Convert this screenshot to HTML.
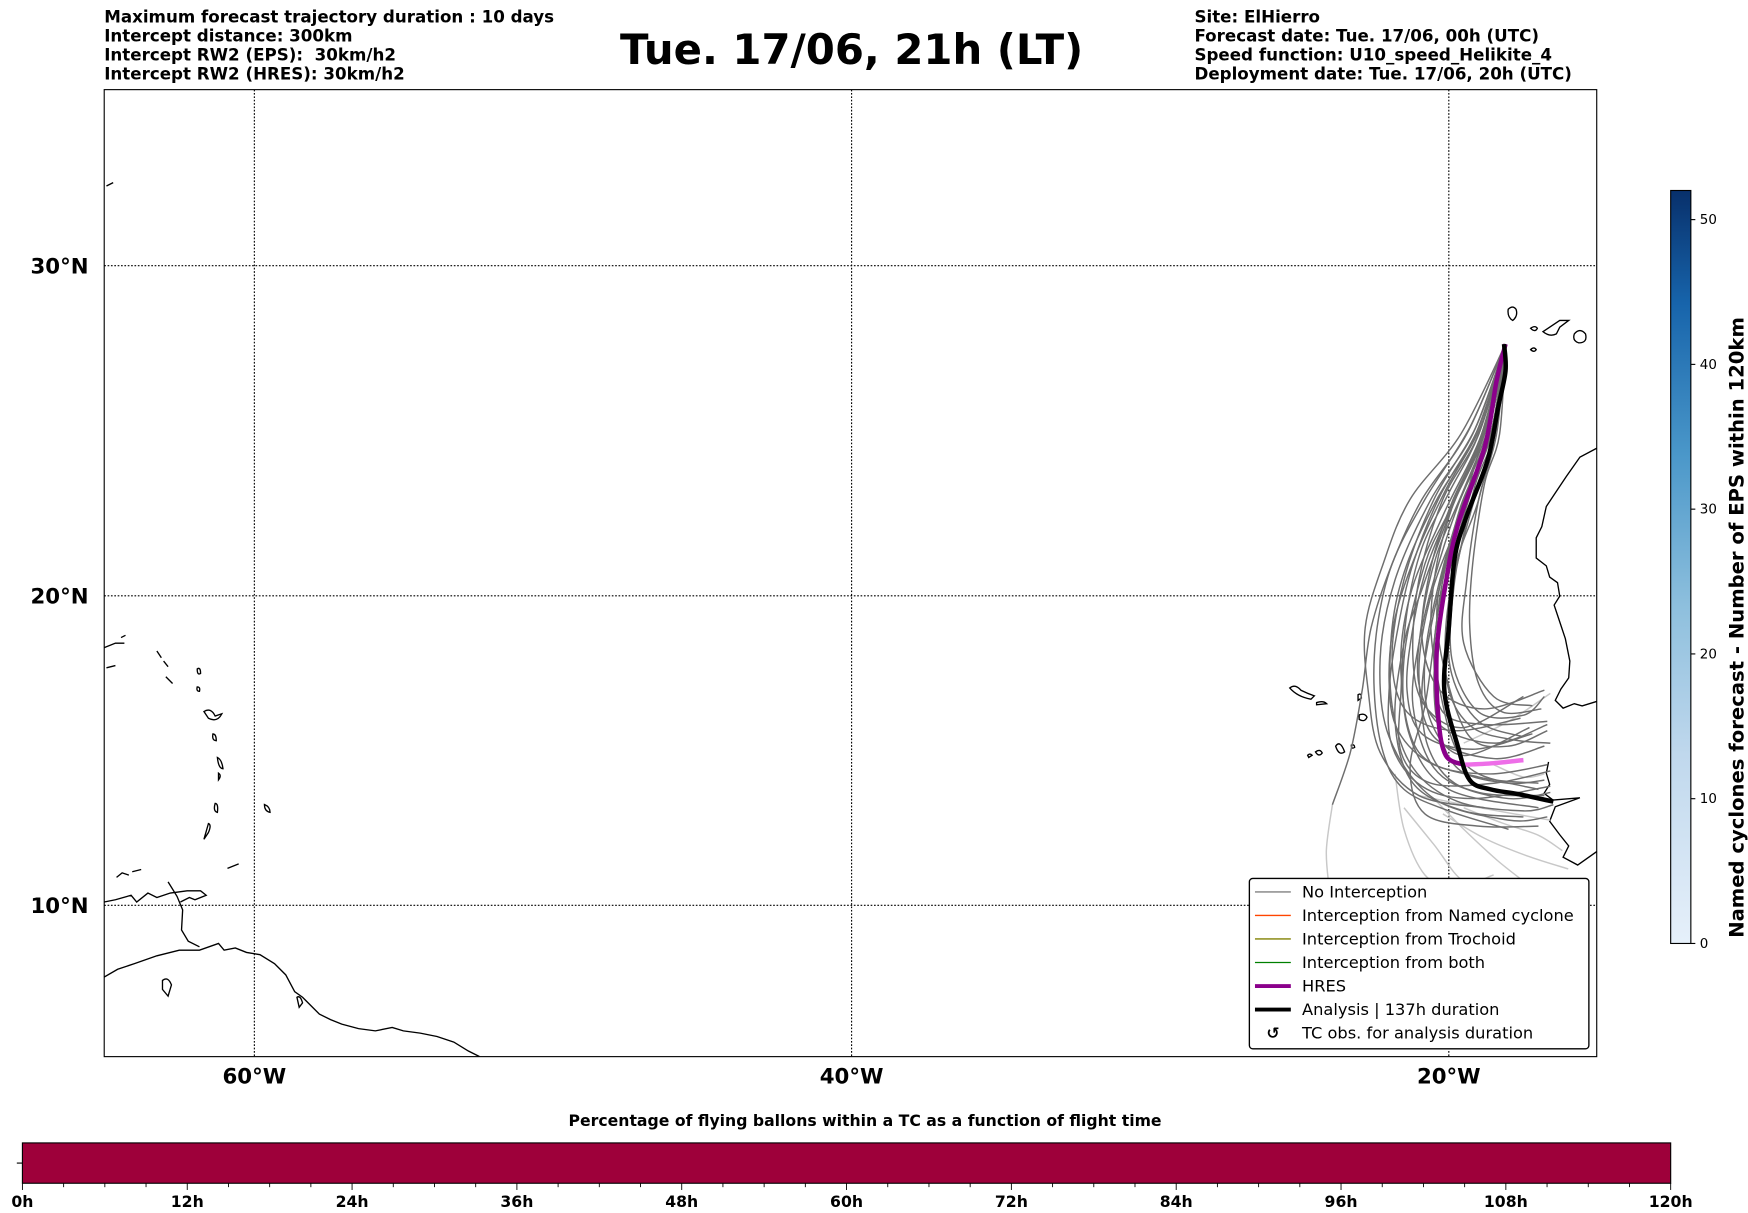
<!DOCTYPE html>
<html><head><meta charset="utf-8">
<style>
html,body{margin:0;padding:0;background:#fff;}
svg{display:block;font-family:"DejaVu Sans","Liberation Sans",sans-serif;}
.hd{font-size:14.9px;font-weight:bold;white-space:pre;}
.ax{font-size:19px;font-weight:bold;}
.lg{font-size:14.5px;}
.cb{font-size:12px;}
.bt{font-size:14px;font-weight:bold;}
.coast{fill:none;stroke:#000;stroke-width:1.2;}
</style></head>
<body>
<svg id="chart" width="1748" height="1213" viewBox="0 0 1560 1082.55" xmlns="http://www.w3.org/2000/svg">
<g>
<text class="hd" x="93" y="20">Maximum forecast trajectory duration : 10 days</text>
<text class="hd" x="93" y="37">Intercept distance: 300km</text>
<text class="hd" x="93" y="54">Intercept RW2 (EPS): &#160;30km/h2</text>
<text class="hd" x="93" y="71">Intercept RW2 (HRES): 30km/h2</text>
<text x="760" y="57" text-anchor="middle" font-size="37.3" font-weight="bold">Tue. 17/06, 21h (LT)</text>
<text class="hd" x="1066" y="20">Site: ElHierro</text>
<text class="hd" x="1066" y="37">Forecast date: Tue. 17/06, 00h (UTC)</text>
<text class="hd" x="1066" y="54">Speed function: U10_speed_Helikite_4</text>
<text class="hd" x="1066" y="71">Deployment date: Tue. 17/06, 20h (UTC)</text>
</g>
<defs><clipPath id="mapclip"><rect x="93" y="80" width="1332" height="863"/></clipPath>
<linearGradient id="blues" x1="0" y1="1" x2="0" y2="0">
<stop offset="0" stop-color="#e6f0fa"/><stop offset="0.25" stop-color="#c0d8ed"/><stop offset="0.45" stop-color="#8dbfdd"/><stop offset="0.65" stop-color="#4a97c9"/><stop offset="0.85" stop-color="#1764ab"/><stop offset="1" stop-color="#08306b"/></linearGradient></defs>
<g id="map" clip-path="url(#mapclip)">
<g id="grid"></g>
<g>
<path class="coast" d="M1425,400 L1410,408 L1398,425 L1388,440 L1380,452 L1376,470 L1371,480 L1371,498 L1380,505 L1383,515 L1390,520 L1392,532 L1387,540 L1392,555 L1397,570 L1401,590 L1400,605 L1393,615 L1388,625 L1395,632 L1405,628 L1412,630 L1425,626"/>
<path class="coast" d="M1382,680 L1380,690 L1383,700 L1378,708 L1386,714 L1410,712 L1388,720 L1383,733 L1392,745 L1400,755 L1395,765 L1408,772 L1425,760"/>
<path class="coast" d="M1346,276 q4,-4 7,0 q2,6 -3,10 q-5,-3 -4,-10 Z M1366,293 q4,-3 6,0 q-2,4 -6,0 Z M1377,296 l15,-10 l8,0 l-8,6 l-3,6 q-6,3 -12,-2 Z M1405,298 q5,-6 10,0 q2,8 -6,8 q-6,-2 -4,-8 Z M1366,312 q3,-3 5,0 q-2,3 -5,0 Z"/>
<path class="coast" d="M1151,614 q5,-4 10,2 q6,3 12,5 l-3,3 q-12,-2 -19,-10 Z M1175,627 q6,-2 9,1 l-9,1 Z M1212,620 q3,-2 3,3 l-3,2 Z M1213,638 q5,-2 7,2 q-2,5 -7,2 Z M1167,674 q2,-2 4,0 l-3,2 Z M1174,671 q4,-3 6,1 q-3,4 -6,-1 Z M1192,666 q4,-6 8,5 q-5,4 -8,-5 Z M1206,665 q3,-1 3,2 q-3,2 -3,-2 Z"/>
<path class="coast" d="M95,166 l6,-3 M93,578 l10,-4 l8,0 M95,596 l8,-2 M108,569 l4,-2 M140,581 l4,6 M146,590 l4,5 M148,604 l6,6 M176,597 q3,-2 3,4 q-3,2 -3,-4 Z M176,613 q3,0 2,4 q-3,0 -2,-4 Z M182,635 q6,-4 10,4 l6,-2 q-4,8 -12,4 Z M190,655 q3,0 3,6 q-4,0 -3,-6 Z M194,676 q4,2 5,10 q-4,0 -5,-10 Z M195,690 q3,2 0,6 Z M192,717 q3,0 2,8 q-4,-1 -2,-8 Z M186,735 q3,1 0,8 l-4,6 Z M236,718 q5,2 5,7 q-5,-1 -5,-7 Z M104,783 l5,-4 l6,2 M118,778 l8,-2 M93,805 l10,-2 l14,-4 l5,6 l10,-8 l8,4 l12,-4 l15,-2 l12,0 l5,4 l-10,4 l-5,-2 l-8,4 M203,775 l10,-4"/>
<path class="coast" d="M93,872 L105,865 L120,860 L140,853 L160,848 L178,848 L195,842 L200,848 L210,846 L220,850 L232,852 L245,860 L255,870 L263,885 L270,890 L275,895 L285,905 L295,910 L305,914 L320,918 L335,920 L350,917 L360,920 L375,922 L390,925 L405,930 L418,938 L428,943 M150,787 L158,800 L163,812 L162,830 L168,840 L178,845 M145,875 q5,-4 8,4 l-3,10 l-5,-6 Z M265,890 q3,-2 5,5 l-3,4 Z"/>
</g>
<g id="traj"></g>
</g>
<rect x="93" y="80" width="1332" height="863" fill="none" stroke="#000" stroke-width="1"/>
<g id="axislabels"></g>
<g>
<rect x="1115" y="784" width="303" height="152" rx="3" fill="#fff" stroke="#000" stroke-width="1.2"/>
<line x1="1120" y1="796" x2="1152" y2="796" stroke="#808080" stroke-width="1.2"/><text class="lg" x="1162" y="801">No Interception</text>
<line x1="1120" y1="817" x2="1152" y2="817" stroke="#ff4500" stroke-width="1.2"/><text class="lg" x="1162" y="822">Interception from Named cyclone</text>
<line x1="1120" y1="838" x2="1152" y2="838" stroke="#808000" stroke-width="1.2"/><text class="lg" x="1162" y="843">Interception from Trochoid</text>
<line x1="1120" y1="859" x2="1152" y2="859" stroke="#008000" stroke-width="1.2"/><text class="lg" x="1162" y="864">Interception from both</text>
<line x1="1120" y1="880" x2="1152" y2="880" stroke="#8b008b" stroke-width="3.5"/><text class="lg" x="1162" y="885">HRES</text>
<line x1="1120" y1="901" x2="1152" y2="901" stroke="#000" stroke-width="3.5"/><text class="lg" x="1162" y="906">Analysis | 137h duration</text>
<text x="1136" y="927" text-anchor="middle" font-size="14" font-weight="bold">↺</text><text class="lg" x="1162" y="927">TC obs. for analysis duration</text>
</g>
<g>
<rect x="1491" y="170" width="18" height="672" fill="url(#blues)" stroke="#000" stroke-width="1"/>
<g id="cbticks"></g>
<text transform="translate(1556,560) rotate(-90)" text-anchor="middle" font-size="17.5" font-weight="bold">Named cyclones forecast - Number of EPS within 120km</text>
</g>
<g>
<text x="772" y="1005" text-anchor="middle" class="bt">Percentage of flying ballons within a TC as a function of flight time</text>
<rect x="20" y="1020" width="1471" height="36" fill="#9e003a" stroke="#000" stroke-width="1"/>
<line x1="15" y1="1038" x2="20" y2="1038" stroke="#000"/>
<g id="hticks"></g>
</g>
</svg>
<script>
const lonTicks = [-60, -40, -20];
const lonTickLabels = ["60°W", "40°W", "20°W"];
const latTicks = [10, 20, 30];
const latTickLabels = ["10°N", "20°N", "30°N"];
const cbTicks = [0, 10, 20, 30, 40, 50];
const hourTicks = [0, 12, 24, 36, 48, 60, 72, 84, 96, 108, 120];

const hresTrack = [[-18.1,27.7],[-18.4,26.6],[-18.8,24.6],[-19.7,22.2],[-20.1,20.4],[-20.4,18.3],[-20.35,16.1],[-20.1,14.9],[-19.5,14.6]];
const hresLateTrack = [[-19.5,14.6],[-18.5,14.65],[-17.5,14.75]];
const analysisTrack = [[-18.15,27.7],[-18.1,26.9],[-18.35,25.8],[-18.7,24.2],[-19.4,22.5],[-19.8,21.2],[-20.0,19.0],[-20.15,17.0],[-19.7,15.2],[-19.3,14.1],[-18.6,13.8],[-17.7,13.65],[-16.5,13.4]];
const enspDark = [
 [[-18.1,27.7],[-18.6,25],[-19.6,22.5],[-20.6,20],[-21.0,17.5],[-20.5,15.5],[-18.5,14.8],[-16.8,15.2]],
 [[-18.1,27.7],[-18.9,25],[-20.2,22.5],[-21.3,20],[-21.6,17.5],[-21.0,15],[-19,14.2],[-17,14.0]],
 [[-18.1,27.7],[-18.5,25],[-19.3,22.5],[-19.8,20.5],[-19.9,18],[-19.0,16.3],[-17.5,16.2],[-16.8,16.8]],
 [[-18.1,27.7],[-18.8,25],[-19.9,22.8],[-20.8,21],[-21.5,18],[-21.3,15.5],[-20,13.8],[-17,13.2]],
 [[-18.1,27.7],[-18.4,25],[-19.0,23],[-19.4,20.5],[-19.5,18.5],[-18.5,16.8],[-17.2,16.5]],
 [[-18.1,27.7],[-19.2,25],[-20.6,23],[-21.8,20.5],[-22.3,18],[-22,15.5],[-20.5,13.5],[-18,12.8],[-16.7,12.9]],
 [[-18.1,27.7],[-18.6,25],[-19.5,23],[-20.3,20.5],[-20.8,18],[-20.6,16],[-19.5,14.9],[-17.3,15.8]],
 [[-18.1,27.7],[-19.0,25],[-20.2,23],[-21.0,20.5],[-21.2,18],[-20.8,16.5],[-19.5,15.8],[-17.5,16.8]],
 [[-18.1,27.7],[-18.7,25.5],[-19.3,23.5],[-20.0,21.5],[-20.4,19.5],[-20.1,17.5],[-19.3,15.5],[-18,15.2],[-16.7,15.7]],
 [[-18.1,27.7],[-19.4,25],[-20.9,23],[-21.9,21],[-22.6,19],[-22.9,17],[-23.3,15],[-23.9,13.3]],
 [[-18.1,27.7],[-18.9,25],[-19.8,23],[-20.4,21],[-20.6,19],[-20.3,17],[-19.8,15.2],[-19,14.3],[-17,13.8]],
 [[-18.1,27.7],[-18.5,25],[-19.1,23.5],[-19.6,21.5],[-20.0,19.5],[-19.9,17.5],[-19.0,16],[-17.5,15.5]],
 [[-18.1,27.7],[-19.1,25],[-20.4,23],[-21.4,21],[-21.9,19],[-21.9,16.5],[-21.2,14.5],[-19.7,13.4],[-17.5,13.1],[-16.5,13.3]],
 [[-18.1,27.7],[-18.7,25],[-19.7,22.8],[-20.5,20.5],[-21.0,18.5],[-21.2,16.5],[-20.5,14.5],[-19,13.7],[-16.8,13.6]],
 [[-18.1,27.7],[-18.3,25],[-18.8,23.5],[-19.2,21],[-19.3,19],[-19.0,17.2],[-18.2,16.3],[-16.9,16.4]],
 [[-18.1,27.7],[-18.6,25],[-19.6,22.8],[-20.2,20.5],[-20.5,18.5],[-20.8,16.5],[-21.3,14.5],[-20.8,13],[-19,12.6],[-17,12.6]],
 [[-18.1,27.7],[-19.0,25],[-20.0,23.2],[-20.9,21.5],[-21.4,19.5],[-21.6,17],[-21.6,15],[-20.6,14],[-18.5,14],[-16.6,14.4]],
 [[-18.1,27.7],[-18.4,25.5],[-19.0,23],[-19.7,21.2],[-20.1,19],[-20.0,17],[-19.2,15.8],[-17.8,15.4],[-16.6,15.3]],
 [[-18.1,27.7],[-18.8,25.2],[-20.0,22.5],[-20.9,20.2],[-21.5,18.5],[-21.8,16],[-21.2,14],[-19.5,13.1],[-17.5,12.9]],
 [[-18.1,27.7],[-19.6,25],[-21.3,23],[-22.2,21],[-22.8,19],[-22.7,17],[-22.3,15],[-21,13.6],[-18.8,13.2]],
 [[-18.1,27.7],[-18.7,25.3],[-19.8,23],[-20.7,21],[-21.2,19],[-21.4,17],[-20.9,15.6],[-19.2,15.1],[-17.2,15.6]],
 [[-18.1,27.7],[-18.5,25.2],[-19.4,23],[-20.1,21],[-20.6,19],[-20.9,17],[-20.7,15.2],[-19.8,14],[-18,13.5],[-16.6,13.7]],
 [[-18.1,27.7],[-19.1,25.2],[-20.5,23],[-21.5,20.5],[-21.9,18],[-21.4,16.3],[-19.8,15.7],[-17.6,16.1]],
 [[-18.1,27.7],[-18.9,25.3],[-20.1,23.3],[-21.1,21.3],[-21.8,19.3],[-22.0,17.3],[-21.7,15.7],[-20.5,14.6],[-18.6,14.3],[-16.7,14.6]],
 [[-18.1,27.7],[-18.4,25.2],[-19.1,23.2],[-19.8,21.5],[-20.3,19.8],[-20.5,18],[-20.2,16.3],[-18.8,15.9],[-16.7,16.0]],
 [[-18.1,27.7],[-19.3,25.2],[-20.8,23],[-21.9,21],[-22.4,19],[-22.5,17],[-22.2,15],[-21.5,13.8],[-20,13.1],[-18,12.5]],
 [[-18.1,27.7],[-18.6,25.4],[-19.5,23.3],[-20.4,21.3],[-20.9,19.2],[-21.0,17.2],[-20.2,15.8],[-18.4,15.3],[-16.7,15.9]],
 [[-18.1,27.7],[-18.8,25.1],[-19.9,22.9],[-20.6,20.9],[-20.9,18.7],[-20.3,17],[-18.8,16.4],[-16.8,17.0]],
 [[-18.1,27.7],[-19.0,25.2],[-20.3,23.1],[-21.2,21],[-21.7,19],[-22,17],[-21.9,15.2],[-20.9,13.9],[-19.2,13.5],[-16.6,13.9]],
 [[-18.1,27.7],[-18.5,25.3],[-19.3,23.1],[-19.9,21.1],[-20.3,19.1],[-20.5,17.3],[-20.3,15.6],[-19.6,14.4],[-18.0,14.0],[-16.8,14.1]]
];
const enspLight = [
 [[-23.9,13.3],[-24.1,11.8],[-24.0,10.5],[-23.9,9.5]],
 [[-20.5,13.5],[-19.5,12.5],[-18.4,11.5],[-17.5,10.8]],
 [[-21.5,13.2],[-20.5,12],[-19.5,10.8],[-18.5,11]],
 [[-19.5,13.2],[-18.2,12.7],[-17.0,12.3],[-16.2,11.8]],
 [[-18.5,14.6],[-17.5,14.2],[-16.8,14.3]],
 [[-21.8,14.3],[-21.5,12.5],[-20.8,11],[-19.8,10.5]],
 [[-19.5,15.3],[-18,16],[-16.6,16.9]],
 [[-20.2,13.0],[-18.8,12.2],[-17.3,11.6],[-16.0,11.2]],
 [[-21.0,13.6],[-19.5,13.3],[-17.8,13.0],[-16.6,12.8]]
];

const X = lon => 1293 + (lon + 20) * 26.65;
const merc = lat => Math.log(Math.tan(Math.PI/4 + lat*Math.PI/360));
const Y = lat => 808 + 1527 * (merc(10) - merc(lat));
const NS = "http://www.w3.org/2000/svg";
function mk(tag, attrs, parent){const e=document.createElementNS(NS,tag);for(const k in attrs)e.setAttribute(k,attrs[k]);parent.appendChild(e);return e;}
function smooth(arr){
  const p = arr.map(q => [X(q[0]), Y(q[1])]);
  let d = "M"+p[0][0].toFixed(1)+","+p[0][1].toFixed(1);
  for(let i=0;i<p.length-1;i++){
    const p0=p[Math.max(i-1,0)], p1=p[i], p2=p[i+1], p3=p[Math.min(i+2,p.length-1)];
    const c1=[p1[0]+(p2[0]-p0[0])/6, p1[1]+(p2[1]-p0[1])/6];
    const c2=[p2[0]-(p3[0]-p1[0])/6, p2[1]-(p3[1]-p1[1])/6];
    d += " C"+c1[0].toFixed(1)+","+c1[1].toFixed(1)+" "+c2[0].toFixed(1)+","+c2[1].toFixed(1)+" "+p2[0].toFixed(1)+","+p2[1].toFixed(1);
  }
  return d;
}

const grid = document.getElementById('grid');
const axl = document.getElementById('axislabels');
lonTicks.forEach((v,i)=>{
  const l = mk('line',{x1:X(v),x2:X(v),y1:80,y2:943,stroke:'#000','stroke-width':1,'stroke-dasharray':'1.5,1.5'},grid);
  
  
  const t = mk('text',{x:X(v),y:967,'text-anchor':'middle',class:'ax'},axl);
  t.textContent = lonTickLabels[i];
  
  
});
latTicks.forEach((v,i)=>{
  const l = mk('line',{x1:93,x2:1425,y1:Y(v),y2:Y(v),stroke:'#000','stroke-width':1,'stroke-dasharray':'1.5,1.5'},grid);
  
  
  const t = mk('text',{x:79,y:Y(v)+7,'text-anchor':'end',class:'ax'},axl);
  t.textContent = latTickLabels[i];
  
  
});

const traj = document.getElementById('traj');
enspLight.forEach(tr=>{
  const p = mk('path',{d:smooth(tr),fill:'none',stroke:'#c8c8c8','stroke-width':1.3},traj);
  
  
});
enspDark.forEach(tr=>{
  const p = mk('path',{d:smooth(tr),fill:'none',stroke:'#6e6e6e','stroke-width':1.3},traj);
  
  
});
const hp = mk('path',{d:smooth(hresTrack),fill:'none',stroke:'#8b008b','stroke-width':4},traj);


const hl = mk('path',{d:smooth(hresLateTrack),fill:'none',stroke:'#ee6ee8','stroke-width':4},traj);


const ap = mk('path',{d:smooth(analysisTrack),fill:'none',stroke:'#000','stroke-width':4},traj);



const cbg = document.getElementById('cbticks');
const CY = v => 842 - v * 12.92;
cbTicks.forEach(v=>{
  mk('line',{x1:1509,x2:1513,y1:CY(v),y2:CY(v),stroke:'#000'},cbg);
  const t = mk('text',{x:1517,y:CY(v)+4,class:'cb'},cbg);
  t.textContent = v;
  
  
});

const hg = document.getElementById('hticks');
const HX = h => 20 + h * 1471/120;
for(let h=0; h<=120; h+=3){
  mk('line',{x1:HX(h),x2:HX(h),y1:1056,y2:1056+(h%12===0?6:3.5),stroke:'#000','stroke-width':0.8},hg);
}
hourTicks.forEach(h=>{
  const t = mk('text',{x:HX(h),y:1077,'text-anchor':'middle',class:'bt'},hg);
  t.textContent = h+"h";
  
  
});
</script>
</body></html>
